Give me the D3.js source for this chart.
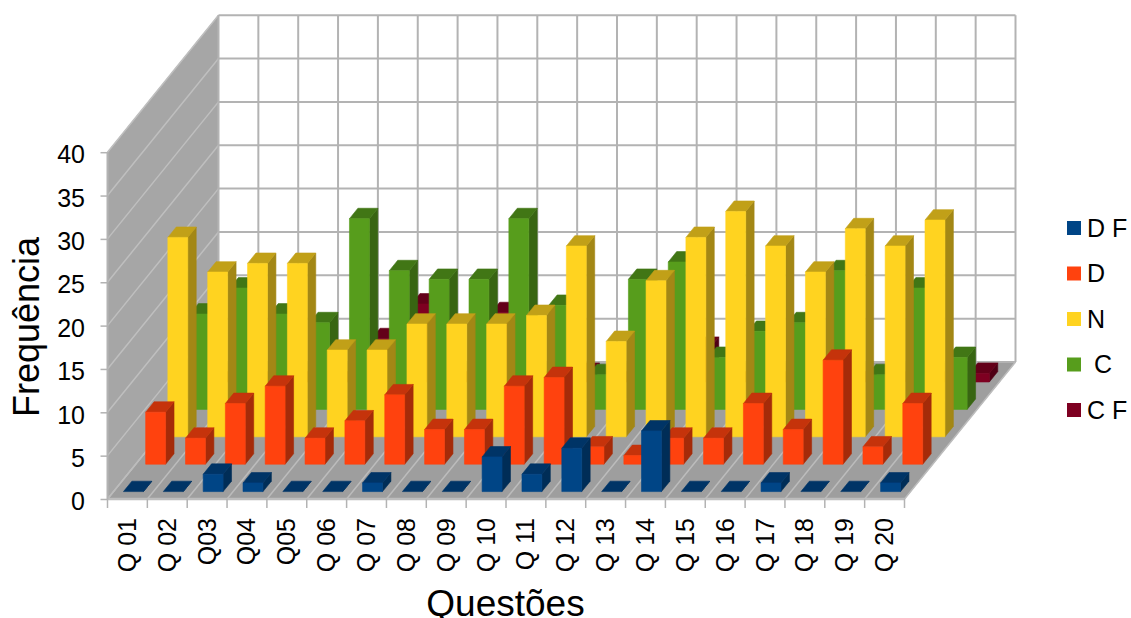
<!DOCTYPE html>
<html><head><meta charset="utf-8">
<script src="https://cdn.jsdelivr.net/npm/d3@7/dist/d3.min.js"></script>
<style>html,body{margin:0;padding:0;background:#fff}svg{display:block}text{font-family:"Liberation Sans",Arial,sans-serif;fill:#000}</style>
</head><body><svg id="c" width="1131" height="618"></svg>
<script>
const categories=["Q 01","Q 02","Q03","Q04","Q05","Q 06","Q 07","Q 08","Q 09","Q 10","Q 11","Q 12","Q 13","Q 14","Q 15","Q 16","Q 17","Q 18","Q 19","Q 20"];
const seriesNames=["D F","D","N"," C","C F"];
const valuesDF=[0,0,2,1,0,0,1,0,0,4,2,5,0,7,0,0,1,0,0,1];
const valuesD=[6,3,7,9,3,5,8,4,4,9,10,2,1,3,3,7,4,12,2,7];
const valuesN=[23,19,20,20,10,10,13,13,13,14,22,11,18,23,26,22,19,24,22,25];
const valuesC=[11,14,11,10,22,16,15,15,22,12,4,15,17,6,9,10,16,4,14,6];
const valuesCF=[0,0,0,0,5,9,0,8,0,1,0,0,4,0,0,0,0,0,0,1];
const yTicks=[0,5,10,15,20,25,30,35,40];
const colFront=["#004586","#ff420e","#ffd320","#579d1c","#7e0021"];
const colTop=["#003466","#c5330b","#c1a018","#417615","#630019"];
const colSide=["#002d57","#a52b09","#a38715","#386512","#4f0015"];

const allValues=[valuesDF,valuesD,valuesN,valuesC,valuesCF];
const X0=107.5,Y0=499,W=797;
const x=d3.scaleBand().domain(categories).range([0,W]).paddingInner(.5).paddingOuter(.25);
const y=d3.scaleLinear().domain([0,40]).range([0,-346.8]);
const depthX=d3.scaleLinear().domain([0,5]).range([0,111]);
const depthY=d3.scaleLinear().domain([0,5]).range([0,-137]);
const P=(px,v,d)=>[X0+px+depthX(d),Y0+y(v)+depthY(d)];
const step=x.step();
const bounds=d3.range(categories.length+1).map(i=>i*step);
const svg=d3.select("#c");
const poly=(g,pts,f)=>g.append("polygon").attr("points",pts.map(p=>p.join(",")).join(" ")).attr("fill",f).attr("stroke",f).attr("stroke-width",.6).attr("stroke-linejoin","round");
const line=(g,a,b,c,w)=>g.append("line").attr("x1",a[0]).attr("y1",a[1]).attr("x2",b[0]).attr("y2",b[1]).attr("stroke",c).attr("stroke-width",w);

const walls=svg.append("g");
poly(walls,[P(0,0,0),P(0,40,0),P(0,40,5),P(0,0,5)],"#a6a6a6");
poly(walls,[P(0,0,0),P(W,0,0),P(W,0,5),P(0,0,5)],"#9e9e9e");
yTicks.forEach(t=>{
  line(walls,P(0,t,0),P(0,t,5),"#bfbfbf",1.5);
  line(walls,P(0,t,5),P(W,t,5),"#b3b3b3",2);
});
bounds.forEach(b=>{
  line(walls,P(b,0,0),P(b,0,5),"#bcbcbc",1.5);
  line(walls,P(b,0,5),P(b,40,5),"#b3b3b3",2);
});
line(walls,P(0,0,0),P(W,0,0),"#bdbdbd",2.5);
line(walls,P(0,0,0),P(0,40,0),"#b3b3b3",2);

const front=.27,back=.65;
d3.range(4,-1,-1).forEach(r=>{
  const g=svg.append("g");
  allValues[r].forEach((v,i)=>{
    const a=x(categories[i]),b=a+x.bandwidth();
    const f=r+front,k=r+back;
    poly(g,[P(b,0,f),P(b,v,f),P(b,v,k),P(b,0,k)],colSide[r]);
    poly(g,[P(a,v,f),P(b,v,f),P(b,v,k),P(a,v,k)],colTop[r]);
    if(v>0)poly(g,[P(a,0,f),P(b,0,f),P(b,v,f),P(a,v,f)],colFront[r]);
  });
});

const yAxis=d3.axisLeft(d3.scaleLinear().domain([0,40]).range([Y0,Y0+y(40)])).tickValues(yTicks).tickSize(7).tickPadding(15.5).tickSizeOuter(0);
const ya=svg.append("g").attr("transform",`translate(${X0},0)`).call(yAxis);
ya.select(".domain").remove();
ya.selectAll("line").attr("stroke","#b3b3b3").attr("stroke-width",1.5);
ya.selectAll("text").attr("font-size",25).attr("y",2.7);

const xAxis=d3.axisBottom(d3.scaleBand().domain(categories).range([X0,X0+W])).tickSize(0);
const xa=svg.append("g").attr("transform",`translate(0,${Y0})`).call(xAxis);
xa.select(".domain").remove();
xa.selectAll("text").attr("font-size",25).attr("text-anchor","end").attr("dy",null)
  .attr("transform","translate(0,19) rotate(-90)").attr("x",0).attr("y",8.5);
bounds.forEach(b=>line(svg,[X0+b,Y0],[X0+b,Y0+9],"#b3b3b3",1.5));

svg.append("text").attr("font-size",36).attr("text-anchor","middle").attr("transform","translate(38.5,327) rotate(-90)").text("Frequência");
svg.append("text").attr("font-size",37).attr("text-anchor","middle").attr("x",505.5).attr("y",615.5).text("Questões");

const lg=svg.append("g");
const legendY=d3.scalePoint().domain(seriesNames).range([228,410]);
seriesNames.forEach((n,i)=>{
  lg.append("rect").attr("x",1067).attr("y",legendY(n)-7).attr("width",14).attr("height",14).attr("fill",colFront[i]);
  lg.append("text").attr("x",1087).attr("y",legendY(n)+8.5).attr("font-size",25).attr("xml:space","preserve").style("white-space","pre").text(n);
});
</script></body></html>
